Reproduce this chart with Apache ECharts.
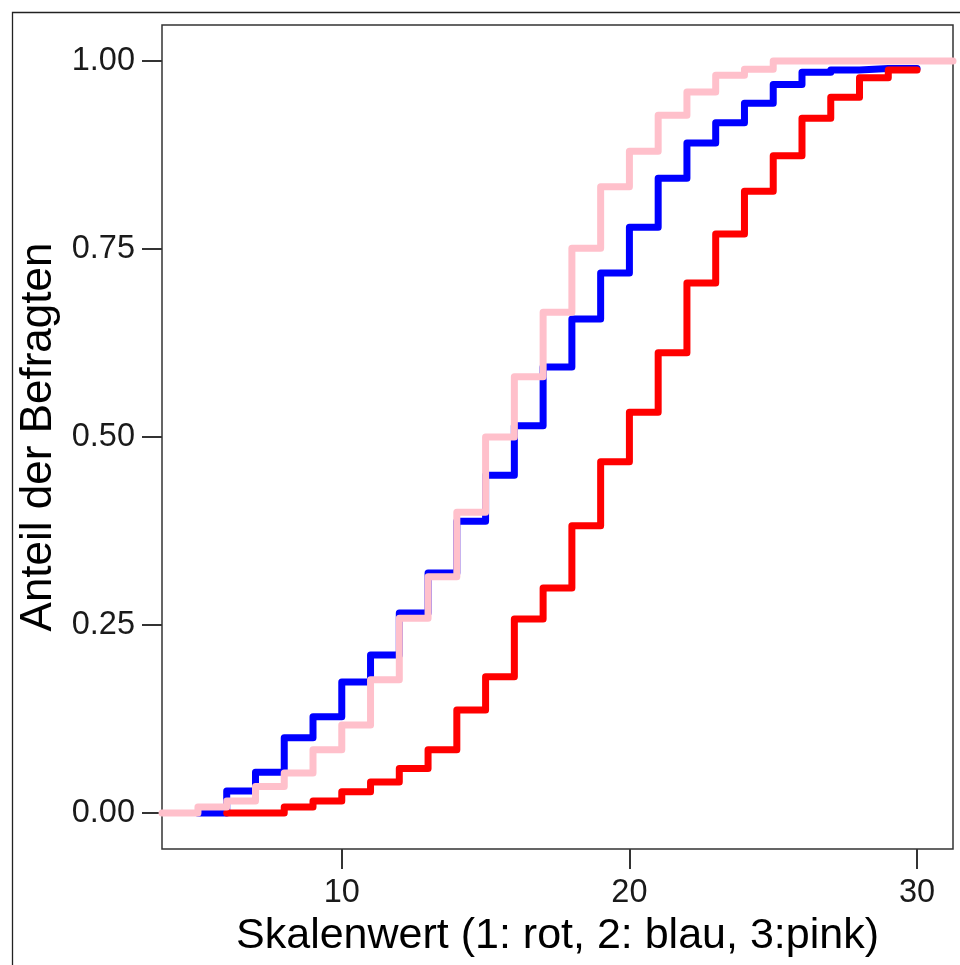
<!DOCTYPE html>
<html>
<head>
<meta charset="utf-8">
<script src="https://cdn.jsdelivr.net/npm/echarts@6/dist/echarts.min.js"></script>
<style>
  html, body { margin: 0; padding: 0; background: #fff; }
  #chart { width: 960px; height: 965px; }
</style>
</head>
<body>
<div id="chart"></div>
<script>
// Skalenwerte (x), Anteil der Befragten (kumuliert) je Gruppe
const skalaRot = [6, 7, 8, 9, 10, 11, 12, 13, 14, 15, 16, 17, 18, 19, 20, 21, 22, 23, 24, 25, 26, 27, 28, 29, 30];
const anteilRot = [0, 0, 0.008, 0.016, 0.028, 0.041, 0.059, 0.084, 0.137, 0.181, 0.258, 0.299, 0.382, 0.467, 0.533,
  0.612, 0.705, 0.770, 0.827, 0.874, 0.924, 0.952, 0.978, 0.988, 0.988];

const skalaBlau = [5, 6, 7, 8, 9, 10, 11, 12, 13, 14, 15, 16, 17, 18, 19, 20, 21, 22, 23, 24, 25, 26, 27, 28, 29, 30];
const anteilBlau = [0, 0.029, 0.054, 0.100, 0.128, 0.174, 0.210, 0.266, 0.319, 0.388, 0.449, 0.515, 0.593, 0.657,
  0.718, 0.779, 0.844, 0.891, 0.918, 0.944, 0.969, 0.985, 0.988, 0.990, 0.990, 0.990];

// pink läuft von Rand zu Rand (-Inf / Inf)
const skalaPink = [-Infinity, 5, 6, 7, 8, 9, 10, 11, 12, 13, 14, 15, 16, 17, 18, 19, 20, 21, 22, 23, 24, 25, Infinity];
const anteilPink = [0, 0.008, 0.016, 0.035, 0.053, 0.084, 0.117, 0.177, 0.259, 0.314, 0.400, 0.500, 0.580, 0.666,
  0.751, 0.833, 0.880, 0.928, 0.959, 0.981, 0.989, 1.0, 1.0];

const xTicks = [10, 20, 30];
const yTicks = [0, 0.25, 0.5, 0.75, 1];

const xMin = 3.75, xMax = 31.25;
const yMin = -0.048, yMax = 1.048;

const FONT = "'Liberation Sans', Arial, sans-serif";

const toPairs = (xs, ys) => xs.map((x, i) => [Math.min(Math.max(x, xMin), xMax), ys[i]]);

const stepLine = (name, color, xs, ys) => ({
  name: name,
  type: 'line',
  step: 'end',
  data: toPairs(xs, ys),
  showSymbol: false,
  silent: true,
  animation: false,
  lineStyle: { color: color, width: 7, cap: 'round', join: 'round' }
});

const myChart = echarts.init(document.getElementById('chart'));
myChart.setOption({
  backgroundColor: '#fff',
  animation: false,
  textStyle: { fontFamily: FONT },
  grid: {
    left: 162,
    top: 25,
    right: 7,
    bottom: 116,
    show: true,
    borderColor: '#333',
    borderWidth: 1.5,
    backgroundColor: '#fff'
  },
  graphic: [{
    type: 'rect',
    left: 10,
    top: 10,
    shape: { width: 1000, height: 1000 },
    style: { fill: 'none', stroke: '#222', lineWidth: 1.3 },
    silent: true,
    z: -1
  }],
  xAxis: {
    type: 'value',
    min: xMin,
    max: xMax,
    name: 'Skalenwert (1: rot, 2: blau, 3:pink)',
    nameLocation: 'middle',
    nameGap: 61,
    nameTextStyle: { fontSize: 43, color: '#000', fontFamily: FONT },
    axisLine: { show: false, onZero: false },
    splitLine: { show: false },
    axisTick: { show: true, length: 20, customValues: xTicks, lineStyle: { color: '#333', width: 2 } },
    axisLabel: { customValues: xTicks, fontSize: 32.5, color: '#1a1a1a', margin: 28, fontFamily: FONT }
  },
  yAxis: {
    type: 'value',
    min: yMin,
    max: yMax,
    name: 'Anteil der Befragten',
    nameLocation: 'middle',
    nameGap: 93,
    nameTextStyle: { fontSize: 44, color: '#000', fontFamily: FONT },
    axisLine: { show: false, onZero: false },
    splitLine: { show: false },
    axisTick: { show: true, length: 20, customValues: yTicks, lineStyle: { color: '#333', width: 2 } },
    axisLabel: {
      customValues: yTicks,
      fontSize: 32.5,
      color: '#1a1a1a',
      margin: 27,
      fontFamily: FONT,
      formatter: (v) => v.toFixed(2)
    }
  },
  series: [
    stepLine('2: blau', '#0000FF', skalaBlau, anteilBlau),
    stepLine('1: rot', '#FF0000', skalaRot, anteilRot),
    stepLine('3: pink', '#FFC0CB', skalaPink, anteilPink)
  ]
});

window.addEventListener('resize', () => { myChart.resize(); });
</script>
</body>
</html>
